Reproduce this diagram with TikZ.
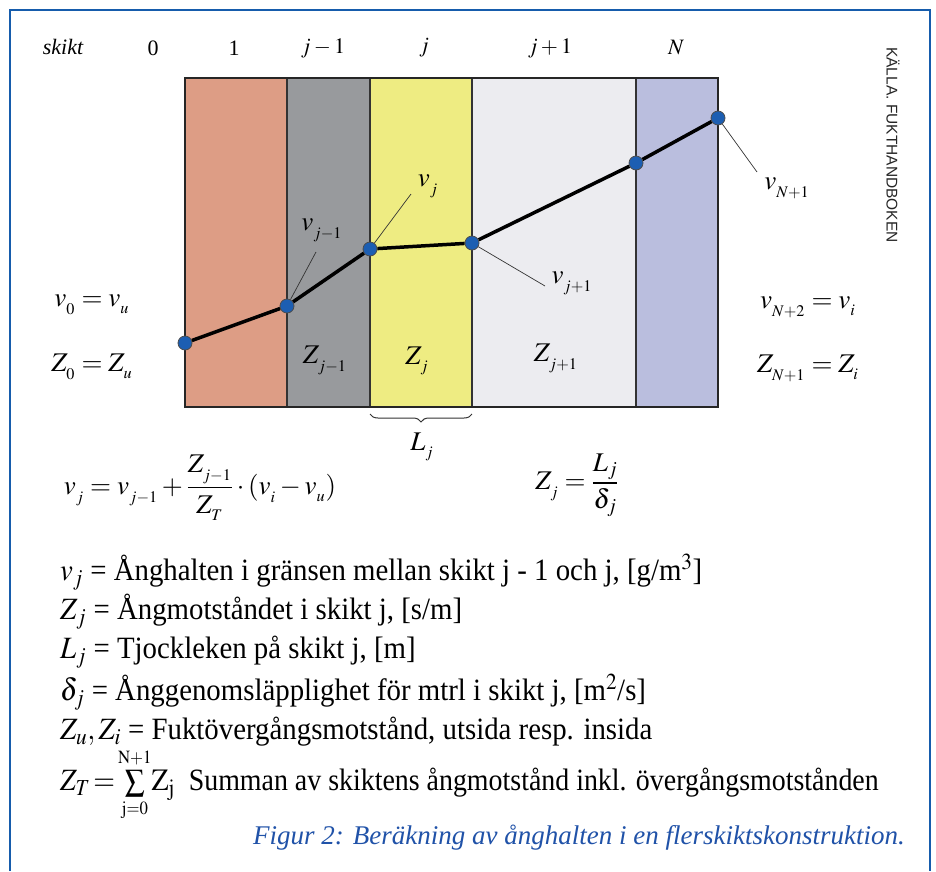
\documentclass[tikz,border=0pt]{standalone}
\usepackage{amsmath}
\usepackage{mathptmx}
\usepackage[no-math]{fontspec}
\setmainfont{Liberation Serif}
\setsansfont{Liberation Sans}
\usepackage{tikz}
\usetikzlibrary{positioning,decorations.pathreplacing}

\definecolor{salmonL}{RGB}{221,157,133}
\definecolor{grayL}{RGB}{152,154,157}
\definecolor{yellowL}{RGB}{238,236,130}
\definecolor{lightL}{RGB}{236,236,240}
\definecolor{lavL}{RGB}{186,190,222}
\definecolor{frameblue}{RGB}{22,92,172}
\definecolor{dotblue}{RGB}{28,94,178}
\definecolor{capblue}{RGB}{32,82,168}

\newcommand{\cond}[1]{\scalebox{0.93}[1]{#1}}

\begin{document}
\begin{tikzpicture}[x=1pt, y=-1pt,
  layer/.style={draw=black!80, line width=1.2pt},
  dot/.style={circle, draw=black!70, fill=dotblue, line width=0.8pt,
              minimum size=14pt, inner sep=0pt},
  curve/.style={line width=3.5pt, black},
  lead/.style={line width=0.7pt, black!80},
  lbl/.style={inner sep=1pt, font=\fontsize{27}{31}\selectfont},
  head/.style={inner sep=1pt, font=\fontsize{22}{26}\selectfont},
  defline/.style={anchor=west, inner sep=0pt, font=\fontsize{31}{35}\selectfont}
]
\useasboundingbox (0,0) rectangle (936,871);

% Frame
\draw[frameblue, line width=2.5pt] (10,871) -- (10,10) -- (930,10) -- (930,871);

% Header
\node[head, font=\fontsize{22}{26}\selectfont\itshape] (skikt) at (63,47) {skikt};
\node[head] (h0) at (153,48) {0};
\node[head] (h1) at (234,48) {1};
\node[head] (hjm) at (323,48) {$j-1$};
\node[head] (hj) at (424,48) {$j$};
\node[head] (hjp) at (550,48) {$j+1$};
\node[head] (hN) at (676,48) {$N$};

% Layers
\draw[layer, fill=salmonL] (185,78) rectangle (287,407);
\draw[layer, fill=grayL] (287,78) rectangle (370,407);
\draw[layer, fill=yellowL] (370,78) rectangle (472,407);
\draw[layer, fill=lightL] (472,78) rectangle (636,407);
\draw[layer, fill=lavL] (636,78) rectangle (718,407);
\draw[line width=2pt, black!85] (185,78) rectangle (718,407);

% Points
\node[dot] (p0) at (185,343) {};
\node[dot] (p1) at (287,306) {};
\node[dot] (p2) at (370,249) {};
\node[dot] (p3) at (472,243) {};
\node[dot] (p4) at (636,163) {};
\node[dot] (p5) at (718,118) {};
\draw[curve] (p0) -- (p1) -- (p2) -- (p3) -- (p4) -- (p5);

% Point labels
\node[lbl] (vjm) at (322,230) {$v_{_{j-1}}$};
\node[lbl] (vj) at (428,186) {$v_{_j}$};
\node[lbl] (vjp) at (572,283) {$v_{_{j+1}}$};
\node[lbl] (vN) at (787,188) {$v_{_{N+1}}$};
\coordinate (e1) at (316,252);
\coordinate (e2) at (411,194);
\coordinate (e3) at (545,286);
\coordinate (e4) at (757,172);
\draw[lead] (p1) -- (e1);
\draw[lead] (p2) -- (e2);
\draw[lead] (p3) -- (e3);
\draw[lead] (p5) -- (e4);

% Layer resistances
\node[lbl] (zjm) at (325,360) {$Z_{_{j-1}}$};
\node[lbl] (zj) at (417,361) {$Z_{_j}$};
\node[lbl] (zjp) at (556,358) {$Z_{_{j+1}}$};

% Thickness
\draw[decorate, decoration={brace, amplitude=8pt}, line width=1pt, black!80]
  (472,414) -- (370,414) coordinate[midway] (bmid);
\node[lbl] (Lj) at (422,447) {$L_{_j}$};

% Boundaries
\node[lbl] (vu) at (92,305) {$v_{_0} = v_{_u}$};
\node[lbl] (zu) at (92,367) {$Z_{_0} = Z_{_u}$};
\node[lbl] (vi) at (808,307) {$v_{_{N+2}} = v_{_i}$};
\node[lbl] (zi) at (808,368) {$Z_{_{N+1}} = Z_{_i}$};

% Formulas
\node[lbl] (f1) at (200,488) {$v_{_j} = v_{_{j-1}} + \dfrac{Z_{_{j-1}}}{Z_{_T}}\cdot(v_{_i} - v_{_u})$};
\node[lbl] (f2) at (577,485) {$Z_{_j} = \dfrac{L_{j}}{\delta_{j}}$};

% Definitions
\node[defline] (d1) at (60,572) {\cond{$v_{j}$ = Ånghalten i gränsen mellan skikt j - 1 och j, [g/m$^3$]}};
\node[defline] (d2) at (60,612) {\cond{$Z_{j}$ = Ångmotståndet i skikt j, [s/m]}};
\node[defline] (d3) at (60,652) {\cond{$L_{j}$ = Tjockleken på skikt j, [m]}};
\node[defline] (d4) at (60,692) {\cond{$\delta_{j}$ = Ånggenomsläpplighet för mtrl i skikt j, [m$^2$/s]}};
\node[defline] (d5) at (60,732) {\cond{$Z_{u}, Z_{i}$ = Fuktövergångsmotstånd, utsida resp. insida}};
\node[defline] (d6) at (60,785) {\scalebox{0.9}[1]{$Z_{T}\!=\!\sum\limits_{\scriptscriptstyle\mathrm{j=0}}^{\scriptscriptstyle\mathrm{N+1}}\!\mathrm{Z_{j}}$\enspace Summan av skiktens ångmotstånd inkl. övergångsmotstånden}};

% Caption
\node[anchor=east, inner sep=0pt, text=capblue, font=\fontsize{27}{30}\selectfont\itshape] (cap) at (905,838)
  {Figur 2: Beräkning av ånghalten i en flerskiktskonstruktion.};

% Source
\node[rotate=-90, inner sep=0pt, font=\sffamily\fontsize{15.5}{18}\selectfont, black!85] (src) at (893,145) {KÄLLA. FUKTHANDBOKEN};
\end{tikzpicture}
\end{document}
